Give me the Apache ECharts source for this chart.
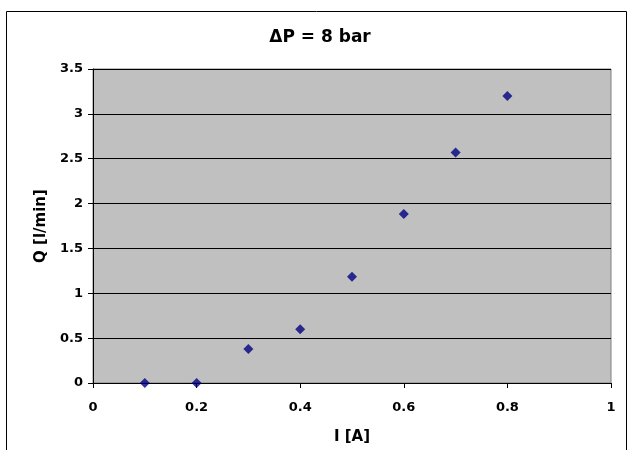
<!DOCTYPE html>
<html><head><meta charset="utf-8">
<script src="https://cdn.jsdelivr.net/npm/echarts@6/dist/echarts.min.js"></script>
<style>html,body{margin:0;padding:0;background:#fff}#c{width:628px;height:450px}</style>
</head><body><div id="c"></div>
<script>
var titleText = 'ΔP = 8 bar';
var xName = 'I [A]';
var yName = 'Q [l/min]';
var currentA = [0.1, 0.2, 0.3, 0.4, 0.5, 0.6, 0.7, 0.8];
var flowLmin = [0, 0, 0.38, 0.6, 1.185, 1.885, 2.57, 3.2];

var chart = echarts.init(document.getElementById('c'));
var font = '"DejaVu Sans", "Liberation Sans", Arial, sans-serif';
chart.setOption({
  animation: false,
  backgroundColor: '#fff',
  graphic: [{type:'rect', shape:{x:6.5,y:11.5,width:620,height:460}, style:{fill:'none', stroke:'#000', lineWidth:1}, silent:true, z:-1}],
  title: {text: titleText, left: 320, top: 29, padding: 0, textAlign: 'center',
    textStyle:{fontFamily: font, fontWeight:'bold', fontSize:17, color:'#000'}},
  grid: {left:93, right:17, top:69, bottom:65, show:true, backgroundColor:'#C0C0C0', borderColor:'#808080', borderWidth:1},
  xAxis: {type:'value', min:0, max:1, interval:0.2, name:xName, nameLocation:'middle', nameGap:47,
    nameTextStyle:{fontFamily:font, fontWeight:'bold', fontSize:15, color:'#000'},
    axisLine:{show:true, lineStyle:{color:'#000'}}, axisTick:{show:true, length:5, inside:false, lineStyle:{color:'#000'}},
    axisLabel:{fontFamily:font, fontWeight:'bold', fontSize:13, color:'#000', margin:18},
    splitLine:{show:false}},
  yAxis: {type:'value', min:0, max:3.5, interval:0.5, name:yName, nameLocation:'middle', nameGap:40,
    nameTextStyle:{fontFamily:font, fontWeight:'bold', fontSize:15, color:'#000'},
    axisLine:{show:true, lineStyle:{color:'#000'}}, axisTick:{show:true, length:5, lineStyle:{color:'#000'}},
    axisLabel:{fontFamily:font, fontWeight:'bold', fontSize:13, color:'#000', margin:10},
    splitLine:{show:true, lineStyle:{color:'#000', width:1}}},
  series: [{type:'scatter', data: currentA.map(function(x,i){return [x, flowLmin[i]];}),
    symbol:'diamond', symbolSize:10, itemStyle:{color:'#000080'}}]
});
</script></body></html>
